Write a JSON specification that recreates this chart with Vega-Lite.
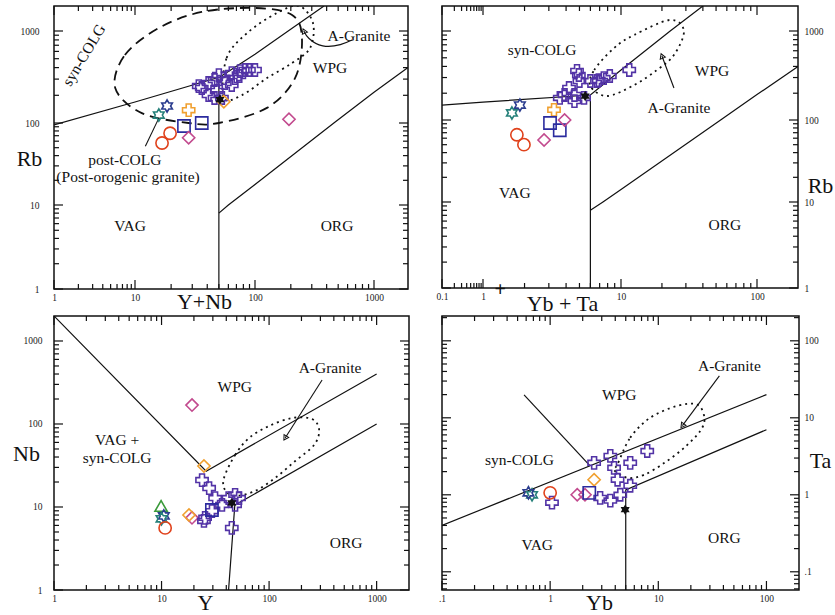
{
"$schema": "https://vega.github.io/schema/vega-lite/v6.json",
"background": "white",
"padding": {"left": 11, "top": 5, "right": 0, "bottom": 0},
"columns": 2,
"spacing": {"row": 27, "column": 33},
"bounds": "flush",
"align": "each",
"config": {
 "view": {"stroke": "#111", "strokeWidth": 1.5},
 "axis": {"domain": false, "grid": false, "ticks": false, "labelFont": "Liberation Serif", "labelFontSize": 9.5, "labelColor": "#222", "labelFlush": false, "labelOverlap": false, "titleFont": "Liberation Serif", "titleFontSize": 22, "titleFontWeight": "normal", "titleColor": "#111", "titleAngle": 0, "titleAlign": "center", "titleBaseline": "middle", "format": "~g"},
 "tick": {"thickness": 1.2, "color": "#111", "opacity": 1},
 "text": {"font": "Liberation Serif"}
},
"datasets": {
 "tk": [
  {"s":"A","v":1,"m":1},{"s":"A","v":10,"m":1},{"s":"A","v":100,"m":1},{"s":"A","v":1000,"m":1},
  {"s":"A","v":2,"m":0},{"s":"A","v":3,"m":0},{"s":"A","v":4,"m":0},{"s":"A","v":5,"m":0},{"s":"A","v":6,"m":0},{"s":"A","v":7,"m":0},{"s":"A","v":8,"m":0},{"s":"A","v":9,"m":0},
  {"s":"A","v":20,"m":0},{"s":"A","v":30,"m":0},{"s":"A","v":40,"m":0},{"s":"A","v":50,"m":0},{"s":"A","v":60,"m":0},{"s":"A","v":70,"m":0},{"s":"A","v":80,"m":0},{"s":"A","v":90,"m":0},
  {"s":"A","v":200,"m":0},{"s":"A","v":300,"m":0},{"s":"A","v":400,"m":0},{"s":"A","v":500,"m":0},{"s":"A","v":600,"m":0},{"s":"A","v":700,"m":0},{"s":"A","v":800,"m":0},{"s":"A","v":900,"m":0},
  {"s":"B","v":0.1,"m":1},{"s":"B","v":1,"m":1},{"s":"B","v":10,"m":1},{"s":"B","v":100,"m":1},
  {"s":"B","v":0.2,"m":0},{"s":"B","v":0.3,"m":0},{"s":"B","v":0.4,"m":0},{"s":"B","v":0.5,"m":0},{"s":"B","v":0.6,"m":0},{"s":"B","v":0.7,"m":0},{"s":"B","v":0.8,"m":0},{"s":"B","v":0.9,"m":0},
  {"s":"B","v":2,"m":0},{"s":"B","v":3,"m":0},{"s":"B","v":4,"m":0},{"s":"B","v":5,"m":0},{"s":"B","v":6,"m":0},{"s":"B","v":7,"m":0},{"s":"B","v":8,"m":0},{"s":"B","v":9,"m":0},
  {"s":"B","v":20,"m":0},{"s":"B","v":30,"m":0},{"s":"B","v":40,"m":0},{"s":"B","v":50,"m":0},{"s":"B","v":60,"m":0},{"s":"B","v":70,"m":0},{"s":"B","v":80,"m":0},{"s":"B","v":90,"m":0},
  {"s":"C","v":0.1,"m":1},{"s":"C","v":1,"m":1},{"s":"C","v":10,"m":1},{"s":"C","v":100,"m":1},
  {"s":"C","v":0.06,"m":0},{"s":"C","v":0.07,"m":0},{"s":"C","v":0.08,"m":0},{"s":"C","v":0.09,"m":0},
  {"s":"C","v":0.2,"m":0},{"s":"C","v":0.3,"m":0},{"s":"C","v":0.4,"m":0},{"s":"C","v":0.5,"m":0},{"s":"C","v":0.6,"m":0},{"s":"C","v":0.7,"m":0},{"s":"C","v":0.8,"m":0},{"s":"C","v":0.9,"m":0},
  {"s":"C","v":2,"m":0},{"s":"C","v":3,"m":0},{"s":"C","v":4,"m":0},{"s":"C","v":5,"m":0},{"s":"C","v":6,"m":0},{"s":"C","v":7,"m":0},{"s":"C","v":8,"m":0},{"s":"C","v":9,"m":0},
  {"s":"C","v":20,"m":0},{"s":"C","v":30,"m":0},{"s":"C","v":40,"m":0},{"s":"C","v":50,"m":0},{"s":"C","v":60,"m":0},{"s":"C","v":70,"m":0},{"s":"C","v":80,"m":0},{"s":"C","v":90,"m":0},{"s":"C","v":200,"m":0}
 ],
 "bounds": [
  {"p":1,"id":"a","o":1,"x":1,"y":95},{"p":1,"id":"a","o":2,"x":10,"y":169},{"p":1,"id":"a","o":3,"x":51,"y":316},{"p":1,"id":"a","o":4,"x":100,"y":560},{"p":1,"id":"a","o":5,"x":190,"y":1000},{"p":1,"id":"a","o":6,"x":380,"y":2000},
  {"p":1,"id":"b","o":1,"x":50,"y":1},{"p":1,"id":"b","o":2,"x":50,"y":300},
  {"p":1,"id":"c","o":1,"x":50,"y":8},{"p":1,"id":"c","o":2,"x":60,"y":10},{"p":1,"id":"c","o":3,"x":100,"y":17.8},{"p":1,"id":"c","o":4,"x":460,"y":100},{"p":1,"id":"c","o":5,"x":1000,"y":216},{"p":1,"id":"c","o":6,"x":2000,"y":400},
  {"p":2,"id":"a","o":1,"x":0.1,"y":147},{"p":2,"id":"a","o":2,"x":1,"y":159},{"p":2,"id":"a","o":3,"x":6,"y":191},{"p":2,"id":"a","o":4,"x":10,"y":365},{"p":2,"id":"a","o":5,"x":23,"y":1000},{"p":2,"id":"a","o":6,"x":40,"y":2000},
  {"p":2,"id":"b","o":1,"x":6,"y":1},{"p":2,"id":"b","o":2,"x":6,"y":191},
  {"p":2,"id":"c","o":1,"x":6,"y":8},{"p":2,"id":"c","o":2,"x":7.4,"y":10},{"p":2,"id":"c","o":3,"x":10,"y":14.2},{"p":2,"id":"c","o":4,"x":54,"y":100},{"p":2,"id":"c","o":5,"x":100,"y":193},{"p":2,"id":"c","o":6,"x":200,"y":400},
  {"p":3,"id":"a","o":1,"x":1,"y":2000},{"p":3,"id":"a","o":2,"x":26,"y":27},{"p":3,"id":"a","o":3,"x":1000,"y":400},
  {"p":3,"id":"c","o":1,"x":42,"y":1},{"p":3,"id":"c","o":2,"x":48,"y":10.5},{"p":3,"id":"c","o":3,"x":1000,"y":100},
  {"p":4,"id":"a","o":1,"x":0.1,"y":0.4},{"p":4,"id":"a","o":2,"x":100,"y":20},
  {"p":4,"id":"b","o":1,"x":0.574,"y":19.9},{"p":4,"id":"b","o":2,"x":2.34,"y":2.38},
  {"p":4,"id":"c","o":1,"x":5,"y":0.05},{"p":4,"id":"c","o":2,"x":5,"y":1.16},{"p":4,"id":"c","o":3,"x":100,"y":7}
 ],
 "fields": [
  {"p":1,"id":"s","k":"dash","o":1,"x":5.7,"y":240},{"p":1,"id":"s","k":"dash","o":2,"x":7.5,"y":548},{"p":1,"id":"s","k":"dash","o":3,"x":15.8,"y":1087},{"p":1,"id":"s","k":"dash","o":4,"x":36,"y":1694},{"p":1,"id":"s","k":"dash","o":5,"x":100,"y":1893},{"p":1,"id":"s","k":"dash","o":6,"x":205,"y":1557},{"p":1,"id":"s","k":"dash","o":7,"x":248,"y":839},{"p":1,"id":"s","k":"dash","o":8,"x":217,"y":308},{"p":1,"id":"s","k":"dash","o":9,"x":126,"y":146},{"p":1,"id":"s","k":"dash","o":10,"x":50,"y":100},{"p":1,"id":"s","k":"dash","o":11,"x":28,"y":100},{"p":1,"id":"s","k":"dash","o":12,"x":11.4,"y":128},
  {"p":1,"id":"g","k":"dot","o":1,"x":55,"y":187},{"p":1,"id":"g","k":"dot","o":2,"x":58,"y":509},{"p":1,"id":"g","k":"dot","o":3,"x":86,"y":951},{"p":1,"id":"g","k":"dot","o":4,"x":153,"y":1648},{"p":1,"id":"g","k":"dot","o":5,"x":234,"y":2000},{"p":1,"id":"g","k":"dot","o":6,"x":307,"y":1248},{"p":1,"id":"g","k":"dot","o":7,"x":290,"y":653},{"p":1,"id":"g","k":"dot","o":8,"x":205,"y":449},{"p":1,"id":"g","k":"dot","o":9,"x":126,"y":308},{"p":1,"id":"g","k":"dot","o":10,"x":78,"y":201},
  {"p":2,"id":"g","k":"dot","o":1,"x":6,"y":241},{"p":2,"id":"g","k":"dot","o":2,"x":6.4,"y":365},{"p":2,"id":"g","k":"dot","o":3,"x":8.9,"y":644},{"p":2,"id":"g","k":"dot","o":4,"x":12.5,"y":902},{"p":2,"id":"g","k":"dot","o":5,"x":22.9,"y":1358},{"p":2,"id":"g","k":"dot","o":6,"x":29,"y":1000},{"p":2,"id":"g","k":"dot","o":7,"x":24.5,"y":537},{"p":2,"id":"g","k":"dot","o":8,"x":18.4,"y":365},{"p":2,"id":"g","k":"dot","o":9,"x":12.5,"y":247},{"p":2,"id":"g","k":"dot","o":10,"x":7.9,"y":186},
  {"p":3,"id":"g","k":"dot","o":1,"x":38.1,"y":22.4},{"p":3,"id":"g","k":"dot","o":2,"x":48.3,"y":42.3},{"p":3,"id":"g","k":"dot","o":3,"x":65.2,"y":67.8},{"p":3,"id":"g","k":"dot","o":4,"x":100,"y":94.6},{"p":3,"id":"g","k":"dot","o":5,"x":164,"y":118},{"p":3,"id":"g","k":"dot","o":6,"x":251,"y":115},{"p":3,"id":"g","k":"dot","o":7,"x":292,"y":84.7},{"p":3,"id":"g","k":"dot","o":8,"x":262,"y":55.8},{"p":3,"id":"g","k":"dot","o":9,"x":175,"y":35.8},{"p":3,"id":"g","k":"dot","o":10,"x":114,"y":22.4},{"p":3,"id":"g","k":"dot","o":11,"x":74,"y":15.6},{"p":3,"id":"g","k":"dot","o":12,"x":48.3,"y":13.6},{"p":3,"id":"g","k":"dot","o":13,"x":39,"y":16},
  {"p":4,"id":"g","k":"dot","o":1,"x":4.17,"y":2.45},{"p":4,"id":"g","k":"dot","o":2,"x":5.5,"y":5.5},{"p":4,"id":"g","k":"dot","o":3,"x":8.4,"y":10},{"p":4,"id":"g","k":"dot","o":4,"x":15,"y":14.3},{"p":4,"id":"g","k":"dot","o":5,"x":23,"y":14.8},{"p":4,"id":"g","k":"dot","o":6,"x":26.7,"y":10},{"p":4,"id":"g","k":"dot","o":7,"x":24.5,"y":6.8},{"p":4,"id":"g","k":"dot","o":8,"x":17.4,"y":4.1},{"p":4,"id":"g","k":"dot","o":9,"x":11.4,"y":2.6},{"p":4,"id":"g","k":"dot","o":10,"x":7.4,"y":1.82},{"p":4,"id":"g","k":"dot","o":11,"x":5.2,"y":1.66},{"p":4,"id":"g","k":"dot","o":12,"x":3.9,"y":2.1}
 ],
 "ptr": [
  {"p":1,"id":"g","o":1,"x":258,"y":1000},{"p":1,"id":"g","o":2,"x":274,"y":839},{"p":1,"id":"g","o":3,"x":365,"y":653},{"p":1,"id":"g","o":4,"x":538,"y":705},{"p":1,"id":"g","o":5,"x":653,"y":798},
  {"p":1,"id":"pc","o":1,"x":12.2,"y":52},{"p":1,"id":"pc","o":2,"x":15.8,"y":113},
  {"p":2,"id":"g","o":1,"x":24.5,"y":229},{"p":2,"id":"g","o":2,"x":20,"y":524},
  {"p":3,"id":"g","o":1,"x":311,"y":339},{"p":3,"id":"g","o":2,"x":141,"y":67.8},
  {"p":4,"id":"g","o":1,"x":36.7,"y":35},{"p":4,"id":"g","o":2,"x":16.7,"y":7.9}
 ],
 "labels": [
  {"p":1,"t":"WPG","x":427,"y":396},{"p":1,"t":"post-COLG","x":7.5,"y":35},{"p":1,"t":"(Post-orogenic granite)","x":8.2,"y":22},{"p":1,"t":"VAG","x":8.7,"y":5.6},{"p":1,"t":"ORG","x":489,"y":5.6},{"p":1,"t":"A-Granite","x":748,"y":883},
  {"p":2,"t":"syn-COLG","x":2.68,"y":612},{"p":2,"t":"WPG","x":46.7,"y":356},{"p":2,"t":"A-Granite","x":26.7,"y":136},{"p":2,"t":"VAG","x":1.7,"y":12.9},{"p":2,"t":"ORG","x":58,"y":5.4},
  {"p":3,"t":"WPG","x":48,"y":279},{"p":3,"t":"VAG +","x":3.86,"y":64},{"p":3,"t":"syn-COLG","x":3.86,"y":39},{"p":3,"t":"ORG","x":520,"y":3.7},{"p":3,"t":"A-Granite","x":369,"y":473},
  {"p":4,"t":"WPG","x":4.36,"y":19.9},{"p":4,"t":"syn-COLG","x":0.52,"y":2.85},{"p":4,"t":"VAG","x":0.76,"y":0.224},{"p":4,"t":"ORG","x":40.8,"y":0.276},{"p":4,"t":"A-Granite","x":45.4,"y":47.4}
 ],
 "pts": [
  {"p":1,"g":"s1","x":34,"y":252},{"p":1,"g":"s1","x":41,"y":272},{"p":1,"g":"s1","x":46,"y":293},{"p":1,"g":"s1","x":50,"y":332},{"p":1,"g":"s1","x":55,"y":308},{"p":1,"g":"s1","x":64,"y":349},{"p":1,"g":"s1","x":68,"y":308},{"p":1,"g":"s1","x":75,"y":367},{"p":1,"g":"s1","x":83,"y":377},{"p":1,"g":"s1","x":89,"y":377},{"p":1,"g":"s1","x":100,"y":377},{"p":1,"g":"s1","x":48,"y":223},{"p":1,"g":"s1","x":46,"y":187},{"p":1,"g":"s1","x":53,"y":187},{"p":1,"g":"s1","x":41,"y":201},{"p":1,"g":"s1","x":36,"y":240},{"p":1,"g":"s1","x":56,"y":272},{"p":1,"g":"s1","x":64,"y":259},{"p":1,"g":"s1","x":74,"y":324},
  {"p":1,"g":"s2","x":51,"y":180},{"p":1,"g":"s5","x":28,"y":138},{"p":1,"g":"s6","x":55,"y":170},{"p":1,"g":"s3","x":18.5,"y":153},{"p":1,"g":"s4","x":15.8,"y":122},{"p":1,"g":"s7","x":25.6,"y":92},{"p":1,"g":"s7","x":36,"y":100},{"p":1,"g":"s8","x":28,"y":66},{"p":1,"g":"s8","x":193,"y":110},{"p":1,"g":"s9","x":16.8,"y":57},{"p":1,"g":"s9","x":19.6,"y":75},
  {"p":2,"g":"s1","x":4.8,"y":356},{"p":2,"g":"s1","x":5.0,"y":274},{"p":2,"g":"s1","x":6.0,"y":274},{"p":2,"g":"s1","x":6.7,"y":274},{"p":2,"g":"s1","x":7.5,"y":296},{"p":2,"g":"s1","x":8.3,"y":312},{"p":2,"g":"s1","x":11.5,"y":365},{"p":2,"g":"s1","x":4.6,"y":191},{"p":2,"g":"s1","x":3.9,"y":191},{"p":2,"g":"s1","x":3.6,"y":177},{"p":2,"g":"s1","x":4.6,"y":163},{"p":2,"g":"s1","x":4.2,"y":229},{"p":2,"g":"s1","x":5.4,"y":177},{"p":2,"g":"s1","x":4.95,"y":320},{"p":2,"g":"s1","x":6.9,"y":281},
  {"p":2,"g":"s2","x":5.5,"y":186},{"p":2,"g":"s3","x":1.85,"y":147},{"p":2,"g":"s4","x":1.62,"y":120},{"p":2,"g":"s5","x":3.27,"y":130},{"p":2,"g":"s7","x":3.06,"y":92},{"p":2,"g":"s7","x":3.6,"y":75},{"p":2,"g":"s8","x":2.77,"y":57},{"p":2,"g":"s8","x":3.9,"y":100},{"p":2,"g":"s9","x":1.76,"y":66},{"p":2,"g":"s9","x":1.98,"y":50},
  {"p":3,"g":"s8","x":19.2,"y":169},{"p":3,"g":"s8","x":19.2,"y":7.4},{"p":3,"g":"s6","x":24.8,"y":31.2},{"p":3,"g":"s6","x":18,"y":8.0},{"p":3,"g":"s10","x":9.9,"y":10.3},{"p":3,"g":"s3","x":10.5,"y":7.8},{"p":3,"g":"s4","x":10,"y":7.2},{"p":3,"g":"s9","x":10.8,"y":5.6},
  {"p":3,"g":"s1","x":23.8,"y":21.1},{"p":3,"g":"s1","x":27.7,"y":16.9},{"p":3,"g":"s1","x":31.5,"y":12.8},{"p":3,"g":"s1","x":48.3,"y":14},{"p":3,"g":"s1","x":52.6,"y":12.8},{"p":3,"g":"s1","x":36.5,"y":10.6},{"p":3,"g":"s1","x":29.4,"y":8.9},{"p":3,"g":"s1","x":25.4,"y":7.4},{"p":3,"g":"s1","x":45,"y":5.6},{"p":3,"g":"s1","x":48.3,"y":10.6},{"p":3,"g":"s1","x":42,"y":12.8},{"p":3,"g":"s1","x":24.8,"y":6.8},
  {"p":3,"g":"s7","x":29.4,"y":9.2},{"p":3,"g":"s2","x":45,"y":11.2},
  {"p":4,"g":"s1","x":2.55,"y":2.6},{"p":4,"g":"s1","x":3.6,"y":3.2},{"p":4,"g":"s1","x":3.9,"y":2.24},{"p":4,"g":"s1","x":5.5,"y":2.6},{"p":4,"g":"s1","x":7.9,"y":3.7},{"p":4,"g":"s1","x":5.5,"y":1.31},{"p":4,"g":"s1","x":4.2,"y":1.57},{"p":4,"g":"s1","x":2.9,"y":0.91},{"p":4,"g":"s1","x":3.6,"y":0.84},{"p":4,"g":"s1","x":4.45,"y":1.0},{"p":4,"g":"s1","x":1.04,"y":0.79},
  {"p":4,"g":"s2","x":4.94,"y":0.64},{"p":4,"g":"s4","x":0.68,"y":1.0},{"p":4,"g":"s3","x":0.63,"y":1.06},{"p":4,"g":"s6","x":2.55,"y":1.57},{"p":4,"g":"s9","x":1.0,"y":1.06},{"p":4,"g":"s8","x":1.78,"y":1.0},{"p":4,"g":"s8","x":2.1,"y":1.0},{"p":4,"g":"s7","x":2.3,"y":1.06}
 ]
},
"concat": [
 {
  "width": 354, "height": 283,
  "resolve": {"axis": {"x": "independent", "y": "independent"}},
  "layer": [
   {"data": {"name": "bounds"}, "transform": [{"filter": "datum.p == 1"}],
    "mark": {"type": "line", "color": "#111", "strokeWidth": 1.2, "clip": true},
    "encoding": {
     "x": {"field": "x", "type": "quantitative", "scale": {"type": "log", "domain": [1,10,100,1000,2000], "range": [0,81,201,320,354], "nice": false},
       "axis": {"orient": "bottom", "values": [1,10,100,1000], "labelPadding": 3, "title": "Y+Nb", "titleX": 150, "titleY": 12}},
     "y": {"field": "y", "type": "quantitative", "scale": {"type": "log", "domain": [1,10,100,1000,2000], "range": [283,199,117,25,0], "nice": false},
       "axis": {"orient": "left", "values": [1,10,100,1000], "labelPadding": 15, "title": "Rb", "titleX": -25, "titleY": 152}},
     "detail": {"field": "id"}, "order": {"field": "o"}}},
   {"data": {"name": "tk"}, "transform": [{"filter": "datum.s == 'A' && datum.m == 1"}], "mark": {"type": "tick", "orient": "vertical", "size": 9, "yOffset": -4.5},
    "encoding": {"x": {"field": "v", "type": "quantitative", "scale": {"type": "log", "domain": [1,10,100,1000,2000], "range": [0,81,201,320,354], "nice": false}, "axis": null}, "y": {"datum": 1, "type": "quantitative", "scale": {"type": "log", "domain": [1,10,100,1000,2000], "range": [283,199,117,25,0], "nice": false}, "axis": null}}},
   {"data": {"name": "tk"}, "transform": [{"filter": "datum.s == 'A' && datum.m == 0"}], "mark": {"type": "tick", "orient": "vertical", "size": 5, "yOffset": -2.5},
    "encoding": {"x": {"field": "v", "type": "quantitative", "scale": {"type": "log", "domain": [1,10,100,1000,2000], "range": [0,81,201,320,354], "nice": false}, "axis": null}, "y": {"datum": 1, "type": "quantitative", "scale": {"type": "log", "domain": [1,10,100,1000,2000], "range": [283,199,117,25,0], "nice": false}, "axis": null}}},
   {"data": {"name": "tk"}, "transform": [{"filter": "datum.s == 'A' && datum.m == 1"}], "mark": {"type": "tick", "orient": "vertical", "size": 9, "yOffset": 4.5},
    "encoding": {"x": {"field": "v", "type": "quantitative", "scale": {"type": "log", "domain": [1,10,100,1000,2000], "range": [0,81,201,320,354], "nice": false}, "axis": null}, "y": {"datum": 2000, "type": "quantitative", "scale": {"type": "log", "domain": [1,10,100,1000,2000], "range": [283,199,117,25,0], "nice": false}, "axis": null}}},
   {"data": {"name": "tk"}, "transform": [{"filter": "datum.s == 'A' && datum.m == 0"}], "mark": {"type": "tick", "orient": "vertical", "size": 5, "yOffset": 2.5},
    "encoding": {"x": {"field": "v", "type": "quantitative", "scale": {"type": "log", "domain": [1,10,100,1000,2000], "range": [0,81,201,320,354], "nice": false}, "axis": null}, "y": {"datum": 2000, "type": "quantitative", "scale": {"type": "log", "domain": [1,10,100,1000,2000], "range": [283,199,117,25,0], "nice": false}, "axis": null}}},
   {"data": {"name": "tk"}, "transform": [{"filter": "datum.s == 'A' && datum.m == 1"}], "mark": {"type": "tick", "orient": "horizontal", "size": 9, "xOffset": 4.5},
    "encoding": {"y": {"field": "v", "type": "quantitative", "scale": {"type": "log", "domain": [1,10,100,1000,2000], "range": [283,199,117,25,0], "nice": false}, "axis": null}, "x": {"datum": 1, "type": "quantitative", "scale": {"type": "log", "domain": [1,10,100,1000,2000], "range": [0,81,201,320,354], "nice": false}, "axis": null}}},
   {"data": {"name": "tk"}, "transform": [{"filter": "datum.s == 'A' && datum.m == 0"}], "mark": {"type": "tick", "orient": "horizontal", "size": 5, "xOffset": 2.5},
    "encoding": {"y": {"field": "v", "type": "quantitative", "scale": {"type": "log", "domain": [1,10,100,1000,2000], "range": [283,199,117,25,0], "nice": false}, "axis": null}, "x": {"datum": 1, "type": "quantitative", "scale": {"type": "log", "domain": [1,10,100,1000,2000], "range": [0,81,201,320,354], "nice": false}, "axis": null}}},
   {"data": {"name": "tk"}, "transform": [{"filter": "datum.s == 'A' && datum.m == 1"}], "mark": {"type": "tick", "orient": "horizontal", "size": 9, "xOffset": -4.5},
    "encoding": {"y": {"field": "v", "type": "quantitative", "scale": {"type": "log", "domain": [1,10,100,1000,2000], "range": [283,199,117,25,0], "nice": false}, "axis": null}, "x": {"datum": 2000, "type": "quantitative", "scale": {"type": "log", "domain": [1,10,100,1000,2000], "range": [0,81,201,320,354], "nice": false}, "axis": null}}},
   {"data": {"name": "tk"}, "transform": [{"filter": "datum.s == 'A' && datum.m == 0"}], "mark": {"type": "tick", "orient": "horizontal", "size": 5, "xOffset": -2.5},
    "encoding": {"y": {"field": "v", "type": "quantitative", "scale": {"type": "log", "domain": [1,10,100,1000,2000], "range": [283,199,117,25,0], "nice": false}, "axis": null}, "x": {"datum": 2000, "type": "quantitative", "scale": {"type": "log", "domain": [1,10,100,1000,2000], "range": [0,81,201,320,354], "nice": false}, "axis": null}}},
   {"data": {"name": "fields"}, "transform": [{"filter": "datum.p == 1"}],
    "mark": {"type": "line", "interpolate": "cardinal-closed", "color": "#111", "strokeWidth": 1.8, "clip": true},
    "encoding": {
     "x": {"field": "x", "type": "quantitative", "scale": {"type": "log", "domain": [1,10,100,1000,2000], "range": [0,81,201,320,354], "nice": false}, "axis": null},
     "y": {"field": "y", "type": "quantitative", "scale": {"type": "log", "domain": [1,10,100,1000,2000], "range": [283,199,117,25,0], "nice": false}, "axis": null},
     "detail": {"field": "id"}, "order": {"field": "o"},
     "strokeDash": {"field": "k", "type": "nominal", "scale": {"domain": ["dash","dot"], "range": [[10,6],[2,4]]}, "legend": null}}},
   {"data": {"name": "ptr"}, "transform": [{"filter": "datum.p == 1"}],
    "mark": {"type": "line", "interpolate": "basis", "color": "#111", "strokeWidth": 1.1, "clip": true},
    "encoding": {
     "x": {"field": "x", "type": "quantitative", "scale": {"type": "log", "domain": [1,10,100,1000,2000], "range": [0,81,201,320,354], "nice": false}, "axis": null},
     "y": {"field": "y", "type": "quantitative", "scale": {"type": "log", "domain": [1,10,100,1000,2000], "range": [283,199,117,25,0], "nice": false}, "axis": null},
     "detail": {"field": "id"}, "order": {"field": "o"}}},
   {"data": {"name": "labels"}, "transform": [{"filter": "datum.p == 1"}],
    "mark": {"type": "text", "fontSize": 15.5, "color": "#111"},
    "encoding": {
     "x": {"field": "x", "type": "quantitative", "scale": {"type": "log", "domain": [1,10,100,1000,2000], "range": [0,81,201,320,354], "nice": false}, "axis": null},
     "y": {"field": "y", "type": "quantitative", "scale": {"type": "log", "domain": [1,10,100,1000,2000], "range": [283,199,117,25,0], "nice": false}, "axis": null},
     "text": {"field": "t"}}},
   {"data": {"values": [{"t": "syn-COLG", "x": 2.35, "y": 548}]},
    "mark": {"type": "text", "fontSize": 15.5, "color": "#111", "angle": -59},
    "encoding": {
     "x": {"field": "x", "type": "quantitative", "scale": {"type": "log", "domain": [1,10,100,1000,2000], "range": [0,81,201,320,354], "nice": false}, "axis": null},
     "y": {"field": "y", "type": "quantitative", "scale": {"type": "log", "domain": [1,10,100,1000,2000], "range": [283,199,117,25,0], "nice": false}, "axis": null},
     "text": {"field": "t"}}},
   {"data": {"values": [{"x": 258, "y": 1000}]},
    "mark": {"type": "point", "shape": "triangle-up", "filled": false, "size": 30, "strokeWidth": 1, "color": "#111", "opacity": 1, "angle": -23},
    "encoding": {
     "x": {"field": "x", "type": "quantitative", "scale": {"type": "log", "domain": [1,10,100,1000,2000], "range": [0,81,201,320,354], "nice": false}, "axis": null},
     "y": {"field": "y", "type": "quantitative", "scale": {"type": "log", "domain": [1,10,100,1000,2000], "range": [283,199,117,25,0], "nice": false}, "axis": null}}},
   {"data": {"name": "pts"}, "transform": [{"filter": "datum.p == 1 && datum.g != 's2'"}],
    "mark": {"type": "point", "filled": false, "size": 150, "strokeWidth": 1.6, "opacity": 1},
    "encoding": {
     "x": {"field": "x", "type": "quantitative", "scale": {"type": "log", "domain": [1,10,100,1000,2000], "range": [0,81,201,320,354], "nice": false}, "axis": null},
     "y": {"field": "y", "type": "quantitative", "scale": {"type": "log", "domain": [1,10,100,1000,2000], "range": [283,199,117,25,0], "nice": false}, "axis": null},
     "shape": {"field": "g", "type": "nominal", "scale": {"domain": ["s1","s3","s4","s5","s6","s7","s8","s9","s10"], "range": ["cross","M0,-1L0.289,-0.5L0.866,-0.5L0.577,0L0.866,0.5L0.289,0.5L0,1L-0.289,0.5L-0.866,0.5L-0.577,0L-0.866,-0.5L-0.289,-0.5Z","M0,-1L0.289,-0.5L0.866,-0.5L0.577,0L0.866,0.5L0.289,0.5L0,1L-0.289,0.5L-0.866,0.5L-0.577,0L-0.866,-0.5L-0.289,-0.5Z","cross","diamond","square","diamond","circle","triangle-up"]}, "legend": null},
     "color": {"field": "g", "type": "nominal", "scale": {"domain": ["s1","s3","s4","s5","s6","s7","s8","s9","s10"], "range": ["#5233a6","#2b3d8f","#25807a","#f0a030","#f0a030","#2b2b9e","#c24a8e","#e0421c","#3a9a3a"]}, "legend": null}}},
   {"data": {"name": "pts"}, "transform": [{"filter": "datum.p == 1 && datum.g == 's2'"}],
    "mark": {"type": "point", "filled": true, "size": 110, "color": "#111", "opacity": 1, "shape": "M0,-1L0.289,-0.5L0.866,-0.5L0.577,0L0.866,0.5L0.289,0.5L0,1L-0.289,0.5L-0.866,0.5L-0.577,0L-0.866,-0.5L-0.289,-0.5Z"},
    "encoding": {
     "x": {"field": "x", "type": "quantitative", "scale": {"type": "log", "domain": [1,10,100,1000,2000], "range": [0,81,201,320,354], "nice": false}, "axis": null},
     "y": {"field": "y", "type": "quantitative", "scale": {"type": "log", "domain": [1,10,100,1000,2000], "range": [283,199,117,25,0], "nice": false}, "axis": null}}}
  ]
 },
 {
  "width": 356, "height": 282,
  "resolve": {"axis": {"x": "independent", "y": "independent"}},
  "layer": [
   {"data": {"name": "bounds"}, "transform": [{"filter": "datum.p == 2"}],
    "mark": {"type": "line", "color": "#111", "strokeWidth": 1.2, "clip": true},
    "encoding": {
     "x": {"field": "x", "type": "quantitative", "scale": {"type": "log", "domain": [0.1,1,10,100,200], "range": [0,41,179,315,356], "nice": false},
       "axis": {"orient": "bottom", "values": [0.1,1,10,100], "labelPadding": 3, "title": "Yb + Ta", "titleX": 120, "titleY": 15}},
     "y": {"field": "y", "type": "quantitative", "scale": {"type": "log", "domain": [1,10,100,1000,2000], "range": [282,196,114,25,0], "nice": false},
       "axis": {"orient": "right", "values": [1,10,100,1000], "labelPadding": 6, "title": "Rb", "titleX": 22, "titleY": 179}},
     "detail": {"field": "id"}, "order": {"field": "o"}}},
   {"data": {"name": "tk"}, "transform": [{"filter": "datum.s == 'B' && datum.m == 1"}], "mark": {"type": "tick", "orient": "vertical", "size": 9, "yOffset": -4.5},
    "encoding": {"x": {"field": "v", "type": "quantitative", "scale": {"type": "log", "domain": [0.1,1,10,100,200], "range": [0,41,179,315,356], "nice": false}, "axis": null}, "y": {"datum": 1, "type": "quantitative", "scale": {"type": "log", "domain": [1,10,100,1000,2000], "range": [282,196,114,25,0], "nice": false}, "axis": null}}},
   {"data": {"name": "tk"}, "transform": [{"filter": "datum.s == 'B' && datum.m == 0"}], "mark": {"type": "tick", "orient": "vertical", "size": 5, "yOffset": -2.5},
    "encoding": {"x": {"field": "v", "type": "quantitative", "scale": {"type": "log", "domain": [0.1,1,10,100,200], "range": [0,41,179,315,356], "nice": false}, "axis": null}, "y": {"datum": 1, "type": "quantitative", "scale": {"type": "log", "domain": [1,10,100,1000,2000], "range": [282,196,114,25,0], "nice": false}, "axis": null}}},
   {"data": {"name": "tk"}, "transform": [{"filter": "datum.s == 'B' && datum.m == 1"}], "mark": {"type": "tick", "orient": "vertical", "size": 9, "yOffset": 4.5},
    "encoding": {"x": {"field": "v", "type": "quantitative", "scale": {"type": "log", "domain": [0.1,1,10,100,200], "range": [0,41,179,315,356], "nice": false}, "axis": null}, "y": {"datum": 2000, "type": "quantitative", "scale": {"type": "log", "domain": [1,10,100,1000,2000], "range": [282,196,114,25,0], "nice": false}, "axis": null}}},
   {"data": {"name": "tk"}, "transform": [{"filter": "datum.s == 'B' && datum.m == 0"}], "mark": {"type": "tick", "orient": "vertical", "size": 5, "yOffset": 2.5},
    "encoding": {"x": {"field": "v", "type": "quantitative", "scale": {"type": "log", "domain": [0.1,1,10,100,200], "range": [0,41,179,315,356], "nice": false}, "axis": null}, "y": {"datum": 2000, "type": "quantitative", "scale": {"type": "log", "domain": [1,10,100,1000,2000], "range": [282,196,114,25,0], "nice": false}, "axis": null}}},
   {"data": {"name": "tk"}, "transform": [{"filter": "datum.s == 'A' && datum.m == 1"}], "mark": {"type": "tick", "orient": "horizontal", "size": 9, "xOffset": 4.5},
    "encoding": {"y": {"field": "v", "type": "quantitative", "scale": {"type": "log", "domain": [1,10,100,1000,2000], "range": [282,196,114,25,0], "nice": false}, "axis": null}, "x": {"datum": 0.1, "type": "quantitative", "scale": {"type": "log", "domain": [0.1,1,10,100,200], "range": [0,41,179,315,356], "nice": false}, "axis": null}}},
   {"data": {"name": "tk"}, "transform": [{"filter": "datum.s == 'A' && datum.m == 0"}], "mark": {"type": "tick", "orient": "horizontal", "size": 5, "xOffset": 2.5},
    "encoding": {"y": {"field": "v", "type": "quantitative", "scale": {"type": "log", "domain": [1,10,100,1000,2000], "range": [282,196,114,25,0], "nice": false}, "axis": null}, "x": {"datum": 0.1, "type": "quantitative", "scale": {"type": "log", "domain": [0.1,1,10,100,200], "range": [0,41,179,315,356], "nice": false}, "axis": null}}},
   {"data": {"name": "tk"}, "transform": [{"filter": "datum.s == 'A' && datum.m == 1"}], "mark": {"type": "tick", "orient": "horizontal", "size": 9, "xOffset": -4.5},
    "encoding": {"y": {"field": "v", "type": "quantitative", "scale": {"type": "log", "domain": [1,10,100,1000,2000], "range": [282,196,114,25,0], "nice": false}, "axis": null}, "x": {"datum": 200, "type": "quantitative", "scale": {"type": "log", "domain": [0.1,1,10,100,200], "range": [0,41,179,315,356], "nice": false}, "axis": null}}},
   {"data": {"name": "tk"}, "transform": [{"filter": "datum.s == 'A' && datum.m == 0"}], "mark": {"type": "tick", "orient": "horizontal", "size": 5, "xOffset": -2.5},
    "encoding": {"y": {"field": "v", "type": "quantitative", "scale": {"type": "log", "domain": [1,10,100,1000,2000], "range": [282,196,114,25,0], "nice": false}, "axis": null}, "x": {"datum": 200, "type": "quantitative", "scale": {"type": "log", "domain": [0.1,1,10,100,200], "range": [0,41,179,315,356], "nice": false}, "axis": null}}},
   {"data": {"name": "fields"}, "transform": [{"filter": "datum.p == 2"}],
    "mark": {"type": "line", "interpolate": "cardinal-closed", "color": "#111", "strokeWidth": 1.8, "clip": true},
    "encoding": {
     "x": {"field": "x", "type": "quantitative", "scale": {"type": "log", "domain": [0.1,1,10,100,200], "range": [0,41,179,315,356], "nice": false}, "axis": null},
     "y": {"field": "y", "type": "quantitative", "scale": {"type": "log", "domain": [1,10,100,1000,2000], "range": [282,196,114,25,0], "nice": false}, "axis": null},
     "detail": {"field": "id"}, "order": {"field": "o"},
     "strokeDash": {"field": "k", "type": "nominal", "scale": {"domain": ["dash","dot"], "range": [[10,6],[2,4]]}, "legend": null}}},
   {"data": {"name": "ptr"}, "transform": [{"filter": "datum.p == 2"}],
    "mark": {"type": "line", "interpolate": "basis", "color": "#111", "strokeWidth": 1.1, "clip": true},
    "encoding": {
     "x": {"field": "x", "type": "quantitative", "scale": {"type": "log", "domain": [0.1,1,10,100,200], "range": [0,41,179,315,356], "nice": false}, "axis": null},
     "y": {"field": "y", "type": "quantitative", "scale": {"type": "log", "domain": [1,10,100,1000,2000], "range": [282,196,114,25,0], "nice": false}, "axis": null},
     "detail": {"field": "id"}, "order": {"field": "o"}}},
   {"data": {"name": "labels"}, "transform": [{"filter": "datum.p == 2"}],
    "mark": {"type": "text", "fontSize": 15.5, "color": "#111"},
    "encoding": {
     "x": {"field": "x", "type": "quantitative", "scale": {"type": "log", "domain": [0.1,1,10,100,200], "range": [0,41,179,315,356], "nice": false}, "axis": null},
     "y": {"field": "y", "type": "quantitative", "scale": {"type": "log", "domain": [1,10,100,1000,2000], "range": [282,196,114,25,0], "nice": false}, "axis": null},
     "text": {"field": "t"}}},
   {"data": {"values": [{"t": "+", "x": 1.33, "y": 0.94}]},
    "mark": {"type": "text", "fontSize": 20, "fontWeight": "bold", "color": "#111"},
    "encoding": {
     "x": {"field": "x", "type": "quantitative", "scale": {"type": "log", "domain": [0.1,1,10,100,200], "range": [0,41,179,315,356], "nice": false}, "axis": null},
     "y": {"field": "y", "type": "quantitative", "scale": {"type": "log", "domain": [1,10,100,1000,2000], "range": [282,196,114,25,0], "nice": false}, "axis": null},
     "text": {"field": "t"}}},
   {"data": {"values": [{"x": 20, "y": 524}]},
    "mark": {"type": "point", "shape": "triangle-up", "filled": false, "size": 30, "strokeWidth": 1, "color": "#111", "opacity": 1, "angle": -21},
    "encoding": {
     "x": {"field": "x", "type": "quantitative", "scale": {"type": "log", "domain": [0.1,1,10,100,200], "range": [0,41,179,315,356], "nice": false}, "axis": null},
     "y": {"field": "y", "type": "quantitative", "scale": {"type": "log", "domain": [1,10,100,1000,2000], "range": [282,196,114,25,0], "nice": false}, "axis": null}}},
   {"data": {"name": "pts"}, "transform": [{"filter": "datum.p == 2 && datum.g != 's2'"}],
    "mark": {"type": "point", "filled": false, "size": 150, "strokeWidth": 1.6, "opacity": 1},
    "encoding": {
     "x": {"field": "x", "type": "quantitative", "scale": {"type": "log", "domain": [0.1,1,10,100,200], "range": [0,41,179,315,356], "nice": false}, "axis": null},
     "y": {"field": "y", "type": "quantitative", "scale": {"type": "log", "domain": [1,10,100,1000,2000], "range": [282,196,114,25,0], "nice": false}, "axis": null},
     "shape": {"field": "g", "type": "nominal", "scale": {"domain": ["s1","s3","s4","s5","s6","s7","s8","s9","s10"], "range": ["cross","M0,-1L0.289,-0.5L0.866,-0.5L0.577,0L0.866,0.5L0.289,0.5L0,1L-0.289,0.5L-0.866,0.5L-0.577,0L-0.866,-0.5L-0.289,-0.5Z","M0,-1L0.289,-0.5L0.866,-0.5L0.577,0L0.866,0.5L0.289,0.5L0,1L-0.289,0.5L-0.866,0.5L-0.577,0L-0.866,-0.5L-0.289,-0.5Z","cross","diamond","square","diamond","circle","triangle-up"]}, "legend": null},
     "color": {"field": "g", "type": "nominal", "scale": {"domain": ["s1","s3","s4","s5","s6","s7","s8","s9","s10"], "range": ["#5233a6","#2b3d8f","#25807a","#f0a030","#f0a030","#2b2b9e","#c24a8e","#e0421c","#3a9a3a"]}, "legend": null}}},
   {"data": {"name": "pts"}, "transform": [{"filter": "datum.p == 2 && datum.g == 's2'"}],
    "mark": {"type": "point", "filled": true, "size": 110, "color": "#111", "opacity": 1, "shape": "M0,-1L0.289,-0.5L0.866,-0.5L0.577,0L0.866,0.5L0.289,0.5L0,1L-0.289,0.5L-0.866,0.5L-0.577,0L-0.866,-0.5L-0.289,-0.5Z"},
    "encoding": {
     "x": {"field": "x", "type": "quantitative", "scale": {"type": "log", "domain": [0.1,1,10,100,200], "range": [0,41,179,315,356], "nice": false}, "axis": null},
     "y": {"field": "y", "type": "quantitative", "scale": {"type": "log", "domain": [1,10,100,1000,2000], "range": [282,196,114,25,0], "nice": false}, "axis": null}}}
  ]
 },
 {
  "width": 355, "height": 274,
  "resolve": {"axis": {"x": "independent", "y": "independent"}},
  "layer": [
   {"data": {"name": "bounds"}, "transform": [{"filter": "datum.p == 3"}],
    "mark": {"type": "line", "color": "#111", "strokeWidth": 1.2, "clip": true},
    "encoding": {
     "x": {"field": "x", "type": "quantitative", "scale": {"type": "log", "domain": [1,2000], "nice": false},
       "axis": {"orient": "bottom", "values": [1,10,100,1000], "labelPadding": 3, "title": "Y", "titleX": 151, "titleY": 12}},
     "y": {"field": "y", "type": "quantitative", "scale": {"type": "log", "domain": [1,2000], "nice": false},
       "axis": {"orient": "left", "values": [1,10,100,1000], "labelPadding": 12, "title": "Nb", "titleX": -28, "titleY": 137}},
     "detail": {"field": "id"}, "order": {"field": "o"}}},
   {"data": {"name": "tk"}, "transform": [{"filter": "datum.s == 'A' && datum.m == 1"}], "mark": {"type": "tick", "orient": "vertical", "size": 9, "yOffset": -4.5},
    "encoding": {"x": {"field": "v", "type": "quantitative", "scale": {"type": "log", "domain": [1,2000], "nice": false}, "axis": null}, "y": {"datum": 1, "type": "quantitative", "scale": {"type": "log", "domain": [1,2000], "nice": false}, "axis": null}}},
   {"data": {"name": "tk"}, "transform": [{"filter": "datum.s == 'A' && datum.m == 0"}], "mark": {"type": "tick", "orient": "vertical", "size": 5, "yOffset": -2.5},
    "encoding": {"x": {"field": "v", "type": "quantitative", "scale": {"type": "log", "domain": [1,2000], "nice": false}, "axis": null}, "y": {"datum": 1, "type": "quantitative", "scale": {"type": "log", "domain": [1,2000], "nice": false}, "axis": null}}},
   {"data": {"name": "tk"}, "transform": [{"filter": "datum.s == 'A' && datum.m == 1"}], "mark": {"type": "tick", "orient": "vertical", "size": 9, "yOffset": 4.5},
    "encoding": {"x": {"field": "v", "type": "quantitative", "scale": {"type": "log", "domain": [1,2000], "nice": false}, "axis": null}, "y": {"datum": 2000, "type": "quantitative", "scale": {"type": "log", "domain": [1,2000], "nice": false}, "axis": null}}},
   {"data": {"name": "tk"}, "transform": [{"filter": "datum.s == 'A' && datum.m == 0"}], "mark": {"type": "tick", "orient": "vertical", "size": 5, "yOffset": 2.5},
    "encoding": {"x": {"field": "v", "type": "quantitative", "scale": {"type": "log", "domain": [1,2000], "nice": false}, "axis": null}, "y": {"datum": 2000, "type": "quantitative", "scale": {"type": "log", "domain": [1,2000], "nice": false}, "axis": null}}},
   {"data": {"name": "tk"}, "transform": [{"filter": "datum.s == 'A' && datum.m == 1"}], "mark": {"type": "tick", "orient": "horizontal", "size": 9, "xOffset": 4.5},
    "encoding": {"y": {"field": "v", "type": "quantitative", "scale": {"type": "log", "domain": [1,2000], "nice": false}, "axis": null}, "x": {"datum": 1, "type": "quantitative", "scale": {"type": "log", "domain": [1,2000], "nice": false}, "axis": null}}},
   {"data": {"name": "tk"}, "transform": [{"filter": "datum.s == 'A' && datum.m == 0"}], "mark": {"type": "tick", "orient": "horizontal", "size": 5, "xOffset": 2.5},
    "encoding": {"y": {"field": "v", "type": "quantitative", "scale": {"type": "log", "domain": [1,2000], "nice": false}, "axis": null}, "x": {"datum": 1, "type": "quantitative", "scale": {"type": "log", "domain": [1,2000], "nice": false}, "axis": null}}},
   {"data": {"name": "tk"}, "transform": [{"filter": "datum.s == 'A' && datum.m == 1"}], "mark": {"type": "tick", "orient": "horizontal", "size": 9, "xOffset": -4.5},
    "encoding": {"y": {"field": "v", "type": "quantitative", "scale": {"type": "log", "domain": [1,2000], "nice": false}, "axis": null}, "x": {"datum": 2000, "type": "quantitative", "scale": {"type": "log", "domain": [1,2000], "nice": false}, "axis": null}}},
   {"data": {"name": "tk"}, "transform": [{"filter": "datum.s == 'A' && datum.m == 0"}], "mark": {"type": "tick", "orient": "horizontal", "size": 5, "xOffset": -2.5},
    "encoding": {"y": {"field": "v", "type": "quantitative", "scale": {"type": "log", "domain": [1,2000], "nice": false}, "axis": null}, "x": {"datum": 2000, "type": "quantitative", "scale": {"type": "log", "domain": [1,2000], "nice": false}, "axis": null}}},
   {"data": {"name": "fields"}, "transform": [{"filter": "datum.p == 3"}],
    "mark": {"type": "line", "interpolate": "cardinal-closed", "color": "#111", "strokeWidth": 1.8, "clip": true},
    "encoding": {
     "x": {"field": "x", "type": "quantitative", "scale": {"type": "log", "domain": [1,2000], "nice": false}, "axis": null},
     "y": {"field": "y", "type": "quantitative", "scale": {"type": "log", "domain": [1,2000], "nice": false}, "axis": null},
     "detail": {"field": "id"}, "order": {"field": "o"},
     "strokeDash": {"field": "k", "type": "nominal", "scale": {"domain": ["dash","dot"], "range": [[10,6],[2,4]]}, "legend": null}}},
   {"data": {"name": "ptr"}, "transform": [{"filter": "datum.p == 3"}],
    "mark": {"type": "line", "interpolate": "basis", "color": "#111", "strokeWidth": 1.1, "clip": true},
    "encoding": {
     "x": {"field": "x", "type": "quantitative", "scale": {"type": "log", "domain": [1,2000], "nice": false}, "axis": null},
     "y": {"field": "y", "type": "quantitative", "scale": {"type": "log", "domain": [1,2000], "nice": false}, "axis": null},
     "detail": {"field": "id"}, "order": {"field": "o"}}},
   {"data": {"name": "labels"}, "transform": [{"filter": "datum.p == 3"}],
    "mark": {"type": "text", "fontSize": 15.5, "color": "#111"},
    "encoding": {
     "x": {"field": "x", "type": "quantitative", "scale": {"type": "log", "domain": [1,2000], "nice": false}, "axis": null},
     "y": {"field": "y", "type": "quantitative", "scale": {"type": "log", "domain": [1,2000], "nice": false}, "axis": null},
     "text": {"field": "t"}}},
   {"data": {"values": [{"x": 141, "y": 67.8}]},
    "mark": {"type": "point", "shape": "triangle-up", "filled": false, "size": 30, "strokeWidth": 1, "color": "#111", "opacity": 1, "angle": 212},
    "encoding": {
     "x": {"field": "x", "type": "quantitative", "scale": {"type": "log", "domain": [1,2000], "nice": false}, "axis": null},
     "y": {"field": "y", "type": "quantitative", "scale": {"type": "log", "domain": [1,2000], "nice": false}, "axis": null}}},
   {"data": {"name": "pts"}, "transform": [{"filter": "datum.p == 3 && datum.g != 's2'"}],
    "mark": {"type": "point", "filled": false, "size": 150, "strokeWidth": 1.6, "opacity": 1},
    "encoding": {
     "x": {"field": "x", "type": "quantitative", "scale": {"type": "log", "domain": [1,2000], "nice": false}, "axis": null},
     "y": {"field": "y", "type": "quantitative", "scale": {"type": "log", "domain": [1,2000], "nice": false}, "axis": null},
     "shape": {"field": "g", "type": "nominal", "scale": {"domain": ["s1","s3","s4","s5","s6","s7","s8","s9","s10"], "range": ["cross","M0,-1L0.289,-0.5L0.866,-0.5L0.577,0L0.866,0.5L0.289,0.5L0,1L-0.289,0.5L-0.866,0.5L-0.577,0L-0.866,-0.5L-0.289,-0.5Z","M0,-1L0.289,-0.5L0.866,-0.5L0.577,0L0.866,0.5L0.289,0.5L0,1L-0.289,0.5L-0.866,0.5L-0.577,0L-0.866,-0.5L-0.289,-0.5Z","cross","diamond","square","diamond","circle","triangle-up"]}, "legend": null},
     "color": {"field": "g", "type": "nominal", "scale": {"domain": ["s1","s3","s4","s5","s6","s7","s8","s9","s10"], "range": ["#5233a6","#2b3d8f","#25807a","#f0a030","#f0a030","#2b2b9e","#c24a8e","#e0421c","#3a9a3a"]}, "legend": null}}},
   {"data": {"name": "pts"}, "transform": [{"filter": "datum.p == 3 && datum.g == 's2'"}],
    "mark": {"type": "point", "filled": true, "size": 110, "color": "#111", "opacity": 1, "shape": "M0,-1L0.289,-0.5L0.866,-0.5L0.577,0L0.866,0.5L0.289,0.5L0,1L-0.289,0.5L-0.866,0.5L-0.577,0L-0.866,-0.5L-0.289,-0.5Z"},
    "encoding": {
     "x": {"field": "x", "type": "quantitative", "scale": {"type": "log", "domain": [1,2000], "nice": false}, "axis": null},
     "y": {"field": "y", "type": "quantitative", "scale": {"type": "log", "domain": [1,2000], "nice": false}, "axis": null}}}
  ]
 },
 {
  "width": 357, "height": 274,
  "resolve": {"axis": {"x": "independent", "y": "independent"}},
  "layer": [
   {"data": {"name": "bounds"}, "transform": [{"filter": "datum.p == 4"}],
    "mark": {"type": "line", "color": "#111", "strokeWidth": 1.2, "clip": true},
    "encoding": {
     "x": {"field": "x", "type": "quantitative", "scale": {"type": "log", "domain": [0.1,200], "nice": false},
       "axis": {"orient": "bottom", "values": [0.1,1,10,100], "labelExpr": "datum.value == 0.1 ? '.1' : datum.label", "labelPadding": 3, "title": "Yb", "titleX": 157, "titleY": 12}},
     "y": {"field": "y", "type": "quantitative", "scale": {"type": "log", "domain": [0.058,210], "nice": false},
       "axis": {"orient": "right", "values": [0.1,1,10,100], "labelExpr": "datum.value == 0.1 ? '.1' : datum.label", "labelPadding": 5, "title": "Ta", "titleX": 21, "titleY": 144}},
     "detail": {"field": "id"}, "order": {"field": "o"}}},
   {"data": {"name": "tk"}, "transform": [{"filter": "datum.s == 'B' && datum.m == 1"}], "mark": {"type": "tick", "orient": "vertical", "size": 9, "yOffset": -4.5},
    "encoding": {"x": {"field": "v", "type": "quantitative", "scale": {"type": "log", "domain": [0.1,200], "nice": false}, "axis": null}, "y": {"datum": 0.058, "type": "quantitative", "scale": {"type": "log", "domain": [0.058,210], "nice": false}, "axis": null}}},
   {"data": {"name": "tk"}, "transform": [{"filter": "datum.s == 'B' && datum.m == 0"}], "mark": {"type": "tick", "orient": "vertical", "size": 5, "yOffset": -2.5},
    "encoding": {"x": {"field": "v", "type": "quantitative", "scale": {"type": "log", "domain": [0.1,200], "nice": false}, "axis": null}, "y": {"datum": 0.058, "type": "quantitative", "scale": {"type": "log", "domain": [0.058,210], "nice": false}, "axis": null}}},
   {"data": {"name": "tk"}, "transform": [{"filter": "datum.s == 'B' && datum.m == 1"}], "mark": {"type": "tick", "orient": "vertical", "size": 9, "yOffset": 4.5},
    "encoding": {"x": {"field": "v", "type": "quantitative", "scale": {"type": "log", "domain": [0.1,200], "nice": false}, "axis": null}, "y": {"datum": 210, "type": "quantitative", "scale": {"type": "log", "domain": [0.058,210], "nice": false}, "axis": null}}},
   {"data": {"name": "tk"}, "transform": [{"filter": "datum.s == 'B' && datum.m == 0"}], "mark": {"type": "tick", "orient": "vertical", "size": 5, "yOffset": 2.5},
    "encoding": {"x": {"field": "v", "type": "quantitative", "scale": {"type": "log", "domain": [0.1,200], "nice": false}, "axis": null}, "y": {"datum": 210, "type": "quantitative", "scale": {"type": "log", "domain": [0.058,210], "nice": false}, "axis": null}}},
   {"data": {"name": "tk"}, "transform": [{"filter": "datum.s == 'C' && datum.m == 1"}], "mark": {"type": "tick", "orient": "horizontal", "size": 9, "xOffset": 4.5},
    "encoding": {"y": {"field": "v", "type": "quantitative", "scale": {"type": "log", "domain": [0.058,210], "nice": false}, "axis": null}, "x": {"datum": 0.1, "type": "quantitative", "scale": {"type": "log", "domain": [0.1,200], "nice": false}, "axis": null}}},
   {"data": {"name": "tk"}, "transform": [{"filter": "datum.s == 'C' && datum.m == 0"}], "mark": {"type": "tick", "orient": "horizontal", "size": 5, "xOffset": 2.5},
    "encoding": {"y": {"field": "v", "type": "quantitative", "scale": {"type": "log", "domain": [0.058,210], "nice": false}, "axis": null}, "x": {"datum": 0.1, "type": "quantitative", "scale": {"type": "log", "domain": [0.1,200], "nice": false}, "axis": null}}},
   {"data": {"name": "tk"}, "transform": [{"filter": "datum.s == 'C' && datum.m == 1"}], "mark": {"type": "tick", "orient": "horizontal", "size": 9, "xOffset": -4.5},
    "encoding": {"y": {"field": "v", "type": "quantitative", "scale": {"type": "log", "domain": [0.058,210], "nice": false}, "axis": null}, "x": {"datum": 200, "type": "quantitative", "scale": {"type": "log", "domain": [0.1,200], "nice": false}, "axis": null}}},
   {"data": {"name": "tk"}, "transform": [{"filter": "datum.s == 'C' && datum.m == 0"}], "mark": {"type": "tick", "orient": "horizontal", "size": 5, "xOffset": -2.5},
    "encoding": {"y": {"field": "v", "type": "quantitative", "scale": {"type": "log", "domain": [0.058,210], "nice": false}, "axis": null}, "x": {"datum": 200, "type": "quantitative", "scale": {"type": "log", "domain": [0.1,200], "nice": false}, "axis": null}}},
   {"data": {"name": "fields"}, "transform": [{"filter": "datum.p == 4"}],
    "mark": {"type": "line", "interpolate": "cardinal-closed", "color": "#111", "strokeWidth": 1.8, "clip": true},
    "encoding": {
     "x": {"field": "x", "type": "quantitative", "scale": {"type": "log", "domain": [0.1,200], "nice": false}, "axis": null},
     "y": {"field": "y", "type": "quantitative", "scale": {"type": "log", "domain": [0.058,210], "nice": false}, "axis": null},
     "detail": {"field": "id"}, "order": {"field": "o"},
     "strokeDash": {"field": "k", "type": "nominal", "scale": {"domain": ["dash","dot"], "range": [[10,6],[2,4]]}, "legend": null}}},
   {"data": {"name": "ptr"}, "transform": [{"filter": "datum.p == 4"}],
    "mark": {"type": "line", "interpolate": "basis", "color": "#111", "strokeWidth": 1.1, "clip": true},
    "encoding": {
     "x": {"field": "x", "type": "quantitative", "scale": {"type": "log", "domain": [0.1,200], "nice": false}, "axis": null},
     "y": {"field": "y", "type": "quantitative", "scale": {"type": "log", "domain": [0.058,210], "nice": false}, "axis": null},
     "detail": {"field": "id"}, "order": {"field": "o"}}},
   {"data": {"name": "labels"}, "transform": [{"filter": "datum.p == 4"}],
    "mark": {"type": "text", "fontSize": 15.5, "color": "#111"},
    "encoding": {
     "x": {"field": "x", "type": "quantitative", "scale": {"type": "log", "domain": [0.1,200], "nice": false}, "axis": null},
     "y": {"field": "y", "type": "quantitative", "scale": {"type": "log", "domain": [0.058,210], "nice": false}, "axis": null},
     "text": {"field": "t"}}},
   {"data": {"values": [{"x": 16.7, "y": 7.9}]},
    "mark": {"type": "point", "shape": "triangle-up", "filled": false, "size": 30, "strokeWidth": 1, "color": "#111", "opacity": 1, "angle": 216},
    "encoding": {
     "x": {"field": "x", "type": "quantitative", "scale": {"type": "log", "domain": [0.1,200], "nice": false}, "axis": null},
     "y": {"field": "y", "type": "quantitative", "scale": {"type": "log", "domain": [0.058,210], "nice": false}, "axis": null}}},
   {"data": {"name": "pts"}, "transform": [{"filter": "datum.p == 4 && datum.g != 's2'"}],
    "mark": {"type": "point", "filled": false, "size": 150, "strokeWidth": 1.6, "opacity": 1},
    "encoding": {
     "x": {"field": "x", "type": "quantitative", "scale": {"type": "log", "domain": [0.1,200], "nice": false}, "axis": null},
     "y": {"field": "y", "type": "quantitative", "scale": {"type": "log", "domain": [0.058,210], "nice": false}, "axis": null},
     "shape": {"field": "g", "type": "nominal", "scale": {"domain": ["s1","s3","s4","s5","s6","s7","s8","s9","s10"], "range": ["cross","M0,-1L0.289,-0.5L0.866,-0.5L0.577,0L0.866,0.5L0.289,0.5L0,1L-0.289,0.5L-0.866,0.5L-0.577,0L-0.866,-0.5L-0.289,-0.5Z","M0,-1L0.289,-0.5L0.866,-0.5L0.577,0L0.866,0.5L0.289,0.5L0,1L-0.289,0.5L-0.866,0.5L-0.577,0L-0.866,-0.5L-0.289,-0.5Z","cross","diamond","square","diamond","circle","triangle-up"]}, "legend": null},
     "color": {"field": "g", "type": "nominal", "scale": {"domain": ["s1","s3","s4","s5","s6","s7","s8","s9","s10"], "range": ["#5233a6","#2b3d8f","#25807a","#f0a030","#f0a030","#2b2b9e","#c24a8e","#e0421c","#3a9a3a"]}, "legend": null}}},
   {"data": {"name": "pts"}, "transform": [{"filter": "datum.p == 4 && datum.g == 's2'"}],
    "mark": {"type": "point", "filled": true, "size": 110, "color": "#111", "opacity": 1, "shape": "M0,-1L0.289,-0.5L0.866,-0.5L0.577,0L0.866,0.5L0.289,0.5L0,1L-0.289,0.5L-0.866,0.5L-0.577,0L-0.866,-0.5L-0.289,-0.5Z"},
    "encoding": {
     "x": {"field": "x", "type": "quantitative", "scale": {"type": "log", "domain": [0.1,200], "nice": false}, "axis": null},
     "y": {"field": "y", "type": "quantitative", "scale": {"type": "log", "domain": [0.058,210], "nice": false}, "axis": null}}}
  ]
 }
]
}
